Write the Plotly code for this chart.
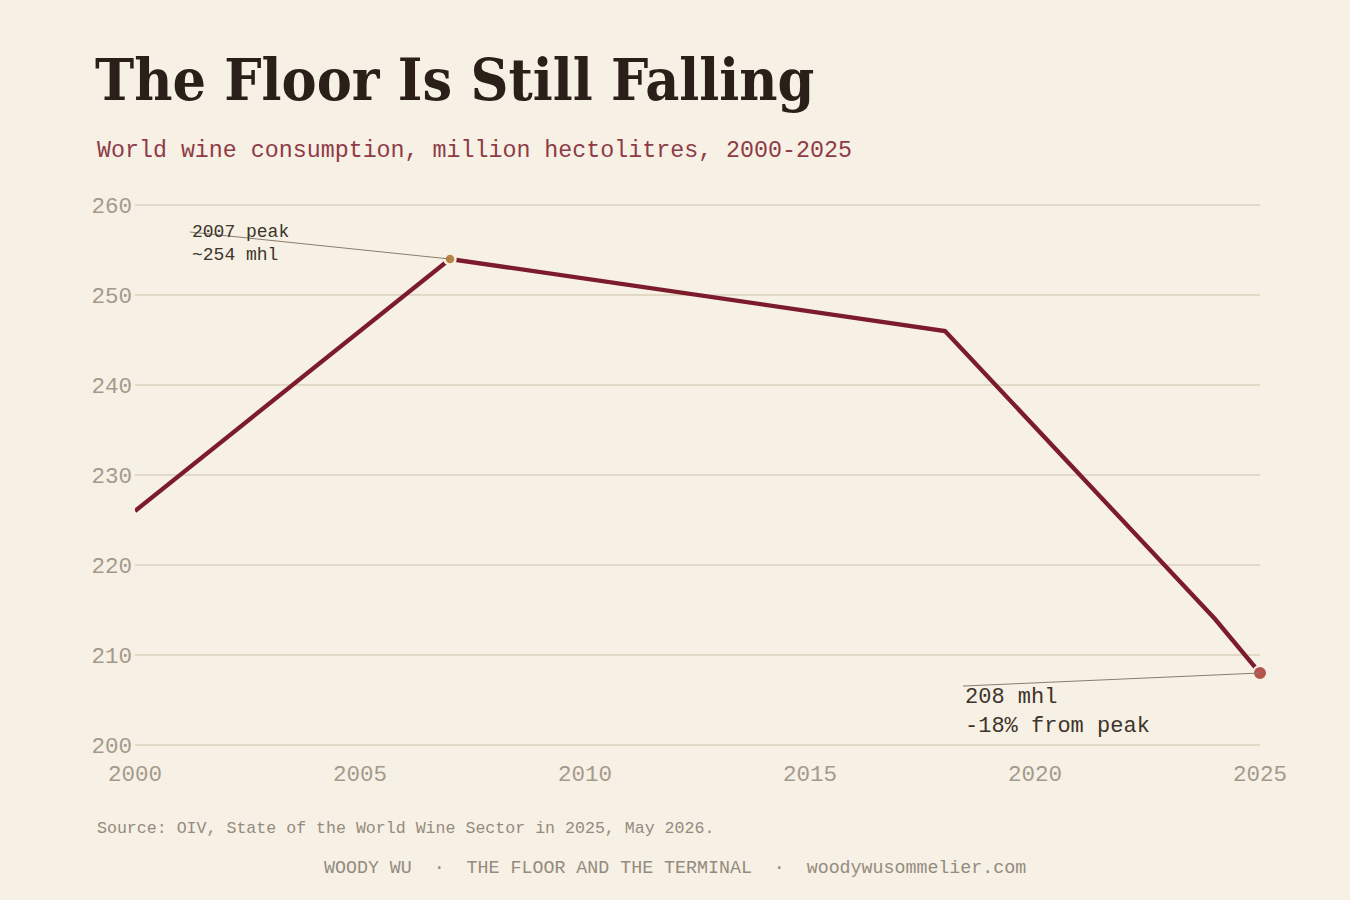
import plotly.graph_objects as go

# World wine consumption (million hectolitres)
years = [2000, 2007, 2018, 2024, 2025]
consumption = [226, 254, 246, 214, 208]

peak_year, peak_value = 2007, 254
last_year, last_value = 2025, 208

x_ticks = [2000, 2005, 2010, 2015, 2020, 2025]
y_ticks = [200, 210, 220, 230, 240, 250, 260]

BG = "#f7f0e4"
WINE = "#7b1b2b"
GRID = "#e1d8c5"
MUTED = "#a39a8c"
INK = "#3d342b"
MONO = "'Courier New', 'Liberation Mono', monospace"
SERIF = "'DejaVu Serif Condensed', Georgia, 'Liberation Serif', serif"

# plot area in pixels; y range is padded a little so the 200/260 grid lines show
L, R, T, B = 135, 1260, 200, 750
Y_RANGE = [200 - 5 / 9, 260 + 5 / 9]


def px_x(px):
    return (px - L) / (R - L)


def px_y(py):
    return (B - py) / (B - T)


fig = go.Figure()

fig.add_trace(go.Scatter(
    x=years,
    y=consumption,
    mode="lines",
    line=dict(color=WINE, width=4.3),
    hoverinfo="skip",
    showlegend=False,
))

# callout leader lines (from label to point)
fig.add_shape(type="line", x0=peak_year - 5.78, y0=peak_value + 3.0,
              x1=peak_year, y1=peak_value,
              line=dict(color="#8a7c6c", width=1), layer="above")
fig.add_shape(type="line", x0=last_year - 6.6, y0=last_value - 1.45,
              x1=last_year, y1=last_value,
              line=dict(color="#8a7c6c", width=1), layer="above")

fig.add_trace(go.Scatter(
    x=[peak_year], y=[peak_value], mode="markers",
    marker=dict(color="#b8863f", size=11, line=dict(color=BG, width=2.5)),
    hoverinfo="skip", showlegend=False,
))
fig.add_trace(go.Scatter(
    x=[last_year], y=[last_value], mode="markers",
    marker=dict(color="#b5544c", size=14, line=dict(color=BG, width=2)),
    hoverinfo="skip", showlegend=False,
    cliponaxis=False,
))

fig.add_annotation(
    x=peak_year - 5.78, y=peak_value + 1.7, xref="x", yref="y",
    text="2007 peak<br>~254 mhl", showarrow=False,
    xanchor="left", yanchor="middle", align="left",
    font=dict(family=MONO, size=18, color=INK),
)
fig.add_annotation(
    x=last_year - 6.6, y=last_value - 4.3, xref="x", yref="y",
    text="208 mhl<br>-18% from peak", showarrow=False,
    xanchor="left", yanchor="middle", align="left",
    font=dict(family=MONO, size=22, color=INK),
)

# header
fig.add_annotation(
    x=px_x(93), y=px_y(80), xref="paper", yref="paper",
    text="<b>The Floor Is Still Falling</b>", showarrow=False,
    xanchor="left", yanchor="middle",
    font=dict(family=SERIF, size=58.5, color="#2a2019"),
)
fig.add_annotation(
    x=px_x(95), y=px_y(151), xref="paper", yref="paper",
    text="World wine consumption, million hectolitres, 2000-2025", showarrow=False,
    xanchor="left", yanchor="middle",
    font=dict(family=MONO, size=23.3, color="#8e3b48"),
)

# footer
fig.add_annotation(
    x=px_x(95), y=px_y(828), xref="paper", yref="paper",
    text="Source: OIV, State of the World Wine Sector in 2025, May 2026.",
    showarrow=False, xanchor="left", yanchor="middle",
    font=dict(family=MONO, size=16.6, color="#948b7f"),
)
fig.add_annotation(
    x=px_x(675), y=px_y(868), xref="paper", yref="paper",
    text="WOODY WU  ·  THE FLOOR AND THE TERMINAL  ·  woodywusommelier.com",
    showarrow=False, xanchor="center", yanchor="middle",
    font=dict(family=MONO, size=18.3, color="#948b7f"),
)

fig.update_layout(
    width=1350,
    height=900,
    paper_bgcolor=BG,
    plot_bgcolor=BG,
    margin=dict(l=L, r=1350 - R, t=T, b=900 - B),
    showlegend=False,
    font=dict(family=MONO),
)

fig.update_xaxes(
    range=[2000, 2025],
    tickvals=x_ticks,
    showgrid=False,
    zeroline=False,
    showline=False,
    ticks="",
    tickfont=dict(family=MONO, size=22.5, color=MUTED),
    ticklabelstandoff=7,
)
fig.update_yaxes(
    range=Y_RANGE,
    tickvals=y_ticks,
    showgrid=True,
    gridcolor=GRID,
    gridwidth=2,
    zeroline=False,
    showline=False,
    ticks="",
    tickfont=dict(family=MONO, size=22.5, color=MUTED),
    ticklabelstandoff=2,
)

fig.write_html(
    "out.html",
    config={"displayModeBar": False},
    post_script="document.body.style.margin='0';",
)
